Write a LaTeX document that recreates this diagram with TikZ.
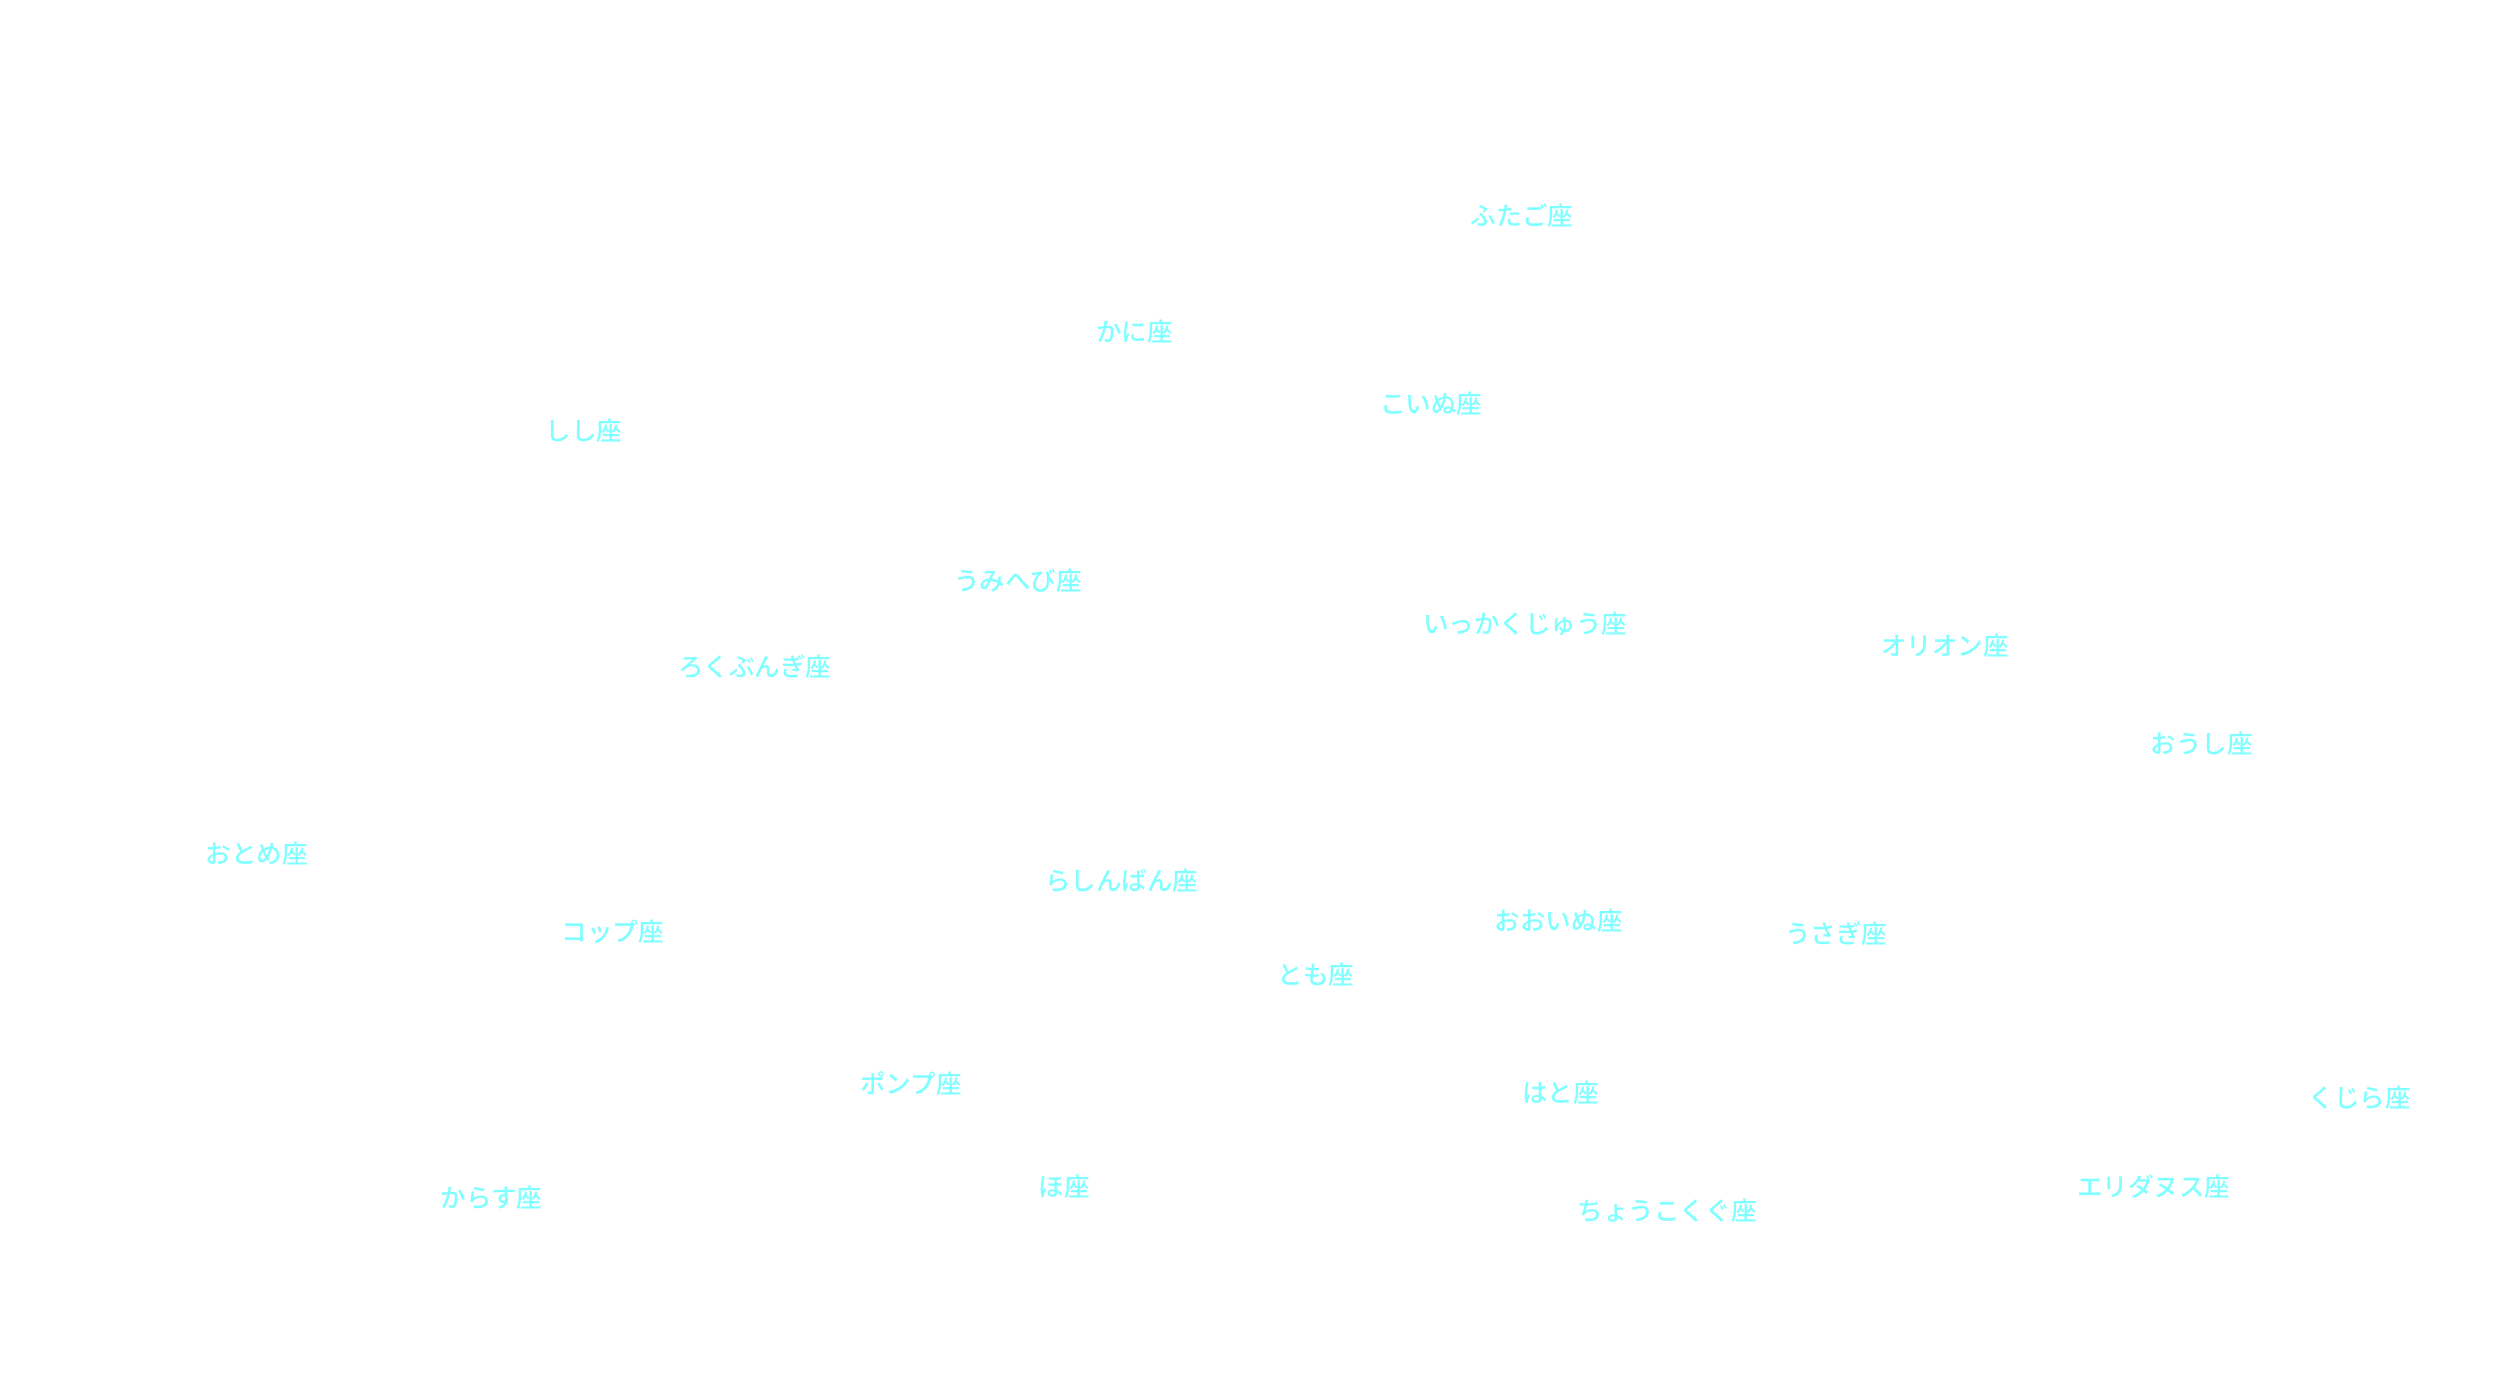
\documentclass[tikz,border=0pt]{standalone}
\usepackage{fontspec}
\newfontfamily\jpfont{Noto Sans CJK JP}[BoldFont={Noto Sans CJK JP Medium}]
\usepackage{tikz}
\definecolor{starcyan}{RGB}{127,255,255}
\begin{document}
\begin{tikzpicture}[
    x=0.01cm, y=-0.01cm,
    constellation/.style={text=starcyan, inner sep=0pt, font=\jpfont\bfseries\fontsize{4.55pt}{5pt}\selectfont}
]
    % canvas
    \useasboundingbox (0,0) rectangle (1567,877);

    % northern part
    \node[constellation] (gem) at (954,135) {ふたご座};
    \node[constellation] (cnc) at (711,208) {かに座};
    \node[constellation] (cmi) at (897,253) {こいぬ座};
    \node[constellation] (leo) at (366,270) {しし座};

    % middle band
    \node[constellation] (hya) at (638,364) {うみへび座};
    \node[constellation] (mon) at (956,391) {いっかくじゅう座};
    \node[constellation] (ori) at (1219,405) {オリオン座};
    \node[constellation] (sex) at (473,418) {ろくぶんぎ座};
    \node[constellation] (tau) at (1380,466) {おうし座};
    \node[constellation] (vir) at (161,535) {おとめ座};
    \node[constellation] (pyx) at (703,552) {らしんばん座};
    \node[constellation] (cma) at (977,577) {おおいぬ座};
    \node[constellation] (crt) at (384,584) {コップ座};
    \node[constellation] (lep) at (1151,585) {うさぎ座};
    \node[constellation] (pup) at (825,611) {とも座};

    % southern part
    \node[constellation] (ant) at (571,679) {ポンプ座};
    \node[constellation] (col) at (978,685) {はと座};
    \node[constellation] (cet) at (1479,688) {くじら座};
    \node[constellation] (crv) at (308,751) {からす座};
    \node[constellation] (vel) at (667,744) {ほ座};
    \node[constellation] (eri) at (1350,744) {エリダヌス座};
    \node[constellation] (cae) at (1045,759) {ちょうこくぐ座};
\end{tikzpicture}
\end{document}
